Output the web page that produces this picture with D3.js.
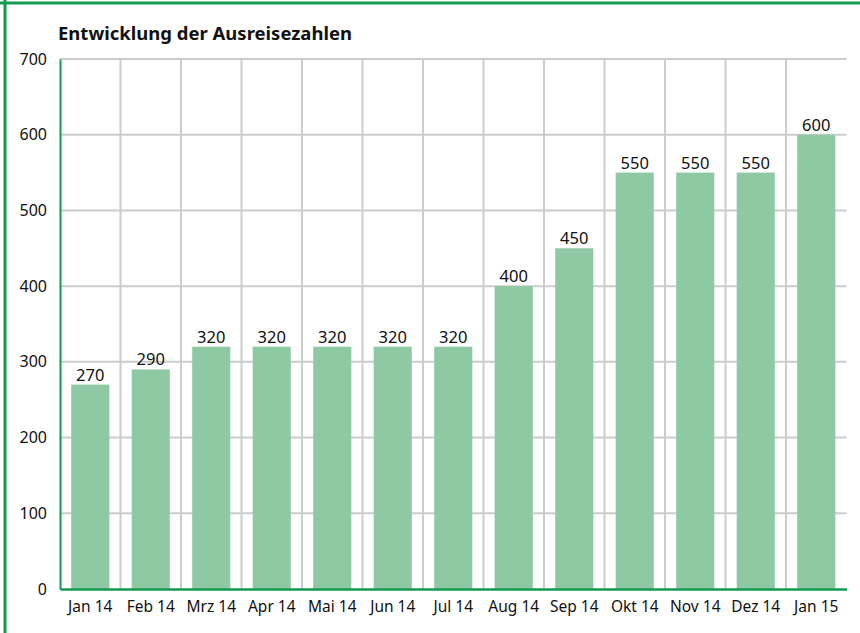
<!DOCTYPE html>
<html><head><meta charset="utf-8">
<script src="https://cdn.jsdelivr.net/npm/d3@7"></script>
<style>body{margin:0;background:#fff}svg{display:block}</style>
</head><body>
<script>
const categories = ["Jan 14","Feb 14","Mrz 14","Apr 14","Mai 14","Jun 14","Jul 14","Aug 14","Sep 14","Okt 14","Nov 14","Dez 14","Jan 15"];
const values = [270,290,320,320,320,320,320,400,450,550,550,550,600];
const yTicks = [0,100,200,300,400,500,600,700];
const title = "Entwicklung der Ausreisezahlen";

const W=860,H=633;
const m={l:60,r:13.5,t:59,b:44};
const svg=d3.select("body").append("svg").attr("width",W).attr("height",H);
const font="'Noto Sans', sans-serif";
// frame
svg.append("line").attr("x1",0).attr("x2",W).attr("y1",3).attr("y2",3).attr("stroke","#119a50").attr("stroke-width",3);
svg.append("line").attr("x1",5).attr("x2",5).attr("y1",0).attr("y2",H).attr("stroke","#119a50").attr("stroke-width",3);

const x=d3.scaleBand().domain(categories).range([m.l,W-m.r]).paddingInner(0.37).paddingOuter(0.185);
const y=d3.scaleLinear().domain([0,700]).range([H-m.b,m.t]);
const gap=(x.step()-x.bandwidth())/2;
// grid horizontal
svg.append("g").selectAll("line").data(yTicks.slice(1)).join("line")
 .attr("x1",m.l).attr("x2",W-m.r).attr("y1",d=>y(d)).attr("y2",d=>y(d))
 .attr("stroke","#cccccc").attr("stroke-width",2);
// grid vertical at category boundaries
svg.append("g").selectAll("line").data(categories.slice(1)).join("line")
 .attr("x1",d=>x(d)-gap).attr("x2",d=>x(d)-gap)
 .attr("y1",y(700)).attr("y2",y(0))
 .attr("stroke","#cccccc").attr("stroke-width",2);
// bars
svg.append("g").selectAll("rect").data(values).join("rect")
 .attr("x",(d,i)=>x(categories[i])).attr("width",x.bandwidth())
 .attr("y",d=>y(d)).attr("height",d=>y(0)-y(d)).attr("fill","#8fc9a4");
// value labels
svg.append("g").selectAll("text").data(values).join("text")
 .attr("x",(d,i)=>x(categories[i])+x.bandwidth()/2).attr("y",d=>y(d)-4)
 .attr("text-anchor","middle").attr("font-family",font).attr("font-size",16.5).attr("fill","#111")
 .text(d=>d);
// axes
const yAxis=svg.append("g").attr("transform",`translate(${m.l},0)`)
 .call(d3.axisLeft(y).tickValues(yTicks).tickSize(0).tickPadding(13));
yAxis.select(".domain").attr("stroke","#119a50").attr("stroke-width",2);
yAxis.selectAll("text").attr("font-family",font).attr("font-size",16).attr("fill","#111");
const xAxis=svg.append("g").attr("transform",`translate(0,${y(0)})`)
 .call(d3.axisBottom(x).tickSize(0).tickPadding(12));
xAxis.select(".domain").attr("stroke","#119a50").attr("stroke-width",2.5);
xAxis.selectAll("text").attr("font-family",font).attr("font-size",15.5).attr("fill","#111");
// title
svg.append("text").attr("x",58).attr("y",40).attr("font-family",font).attr("font-weight","bold")
 .attr("font-size",18.5).attr("fill","#111").attr("textLength",294).attr("lengthAdjust","spacingAndGlyphs").text(title);
</script>
</body></html>
